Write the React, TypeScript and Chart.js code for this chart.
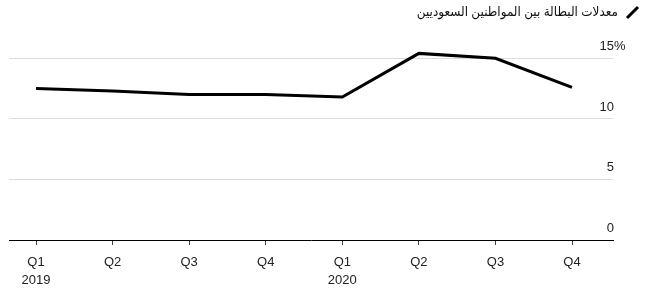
import React, { useEffect, useRef } from "react";
import { Chart, registerables } from "chart.js";

Chart.register(...registerables);

const quarters = ["Q1", "Q2", "Q3", "Q4", "Q1", "Q2", "Q3", "Q4"];
const years = ["2019", "", "", "", "2020", "", "", ""];
const unemployment = [12.5, 12.3, 12.0, 12.0, 11.8, 15.4, 15.0, 12.6];
const yTicks = [0, 5, 10, 15];
const title = "معدلات البطالة بين المواطنين السعوديين";

const FONT = "'Liberation Sans', Arial, 'DejaVu Sans', sans-serif";

const overlay = {
  id: "overlay",
  afterDraw(chart: any) {
    const ctx = chart.ctx as CanvasRenderingContext2D;
    const y = chart.scales.y;
    ctx.save();
    ctx.font = `13px ${FONT}`;
    ctx.fillStyle = "#222";
    ctx.textBaseline = "alphabetic";
    yTicks.forEach((v, i) => {
      const py = y.getPixelForValue(v);
      ctx.textAlign = "right";
      ctx.fillText(String(v), 614, py - 8);
      if (i === yTicks.length - 1) {
        ctx.textAlign = "left";
        ctx.fillText("%", 614, py - 8);
      }
    });
    ctx.restore();
    // legend / title
    ctx.save();
    ctx.font = `13px ${FONT}`;
    ctx.fillStyle = "#111";
    ctx.textAlign = "right";
    ctx.textBaseline = "middle";
    (ctx as any).direction = "rtl";
    ctx.translate(618, 12);
    ctx.scale(0.925, 1);
    ctx.fillText(title, 0, 0);
    ctx.restore();
    ctx.save();
    ctx.beginPath();
    ctx.lineWidth = 3;
    ctx.strokeStyle = "#000";
    ctx.lineCap = "butt";
    ctx.moveTo(627, 18);
    ctx.lineTo(638, 7);
    ctx.stroke();
    ctx.restore();
  },
};

export default function App() {
  const ref = useRef<HTMLCanvasElement | null>(null);
  useEffect(() => {
    if (!ref.current) return;
    const chart = new Chart(ref.current, {
      type: "line",
      data: {
        datasets: [
          {
            data: unemployment.map((v, i) => ({ x: i, y: v })),
            borderColor: "#000",
            borderWidth: 3,
            pointRadius: 0,
            tension: 0,
            fill: false,
          },
        ],
      },
      options: {
        animation: false,
        responsive: false,
        maintainAspectRatio: false,
        layout: { padding: { left: 9, right: 38, top: 34, bottom: 0 } },
        plugins: { legend: { display: false }, tooltip: { enabled: false }, title: { display: false } },
        scales: {
          x: {
            type: "linear",
            position: "bottom",
            min: -0.353,
            max: 7.535,
            afterFit(scale: any) {
              scale.height = 53;
            },
            border: { display: true, color: "#000", width: 1 },
            grid: { drawOnChartArea: false, drawTicks: true, tickLength: 5, color: "#444", lineWidth: 1 },
            ticks: {
              stepSize: 1,
              includeBounds: false,
              autoSkip: false,
              maxRotation: 0,
              padding: 8,
              color: "#222",
              font: { family: FONT, size: 13, lineHeight: 1.4 },
              callback: (v: any) => {
                const i = Math.round(Number(v));
                if (i < 0 || i >= quarters.length || Math.abs(Number(v) - i) > 1e-6) return "";
                return years[i] ? [quarters[i], years[i]] : quarters[i];
              },
            },
          },
          y: {
            position: "right",
            min: 0,
            max: 17,
            afterBuildTicks(scale: any) {
              scale.ticks = yTicks.map((v) => ({ value: v }));
            },
            border: { display: false },
            grid: { drawTicks: false, color: (c: any) => (c.tick && c.tick.value === 0 ? "rgba(0,0,0,0)" : "#dcdcdc"), lineWidth: 1 },
            ticks: { display: false },
          },
        },
      },
      plugins: [overlay],
    } as any);
    return () => chart.destroy();
  }, []);
  return (
    <div style={{ position: "fixed", left: 0, top: 0, width: 651, height: 293, background: "#fff" }}>
      <canvas ref={ref} width={651} height={293} style={{ width: 651, height: 293 }} />
    </div>
  );
}
